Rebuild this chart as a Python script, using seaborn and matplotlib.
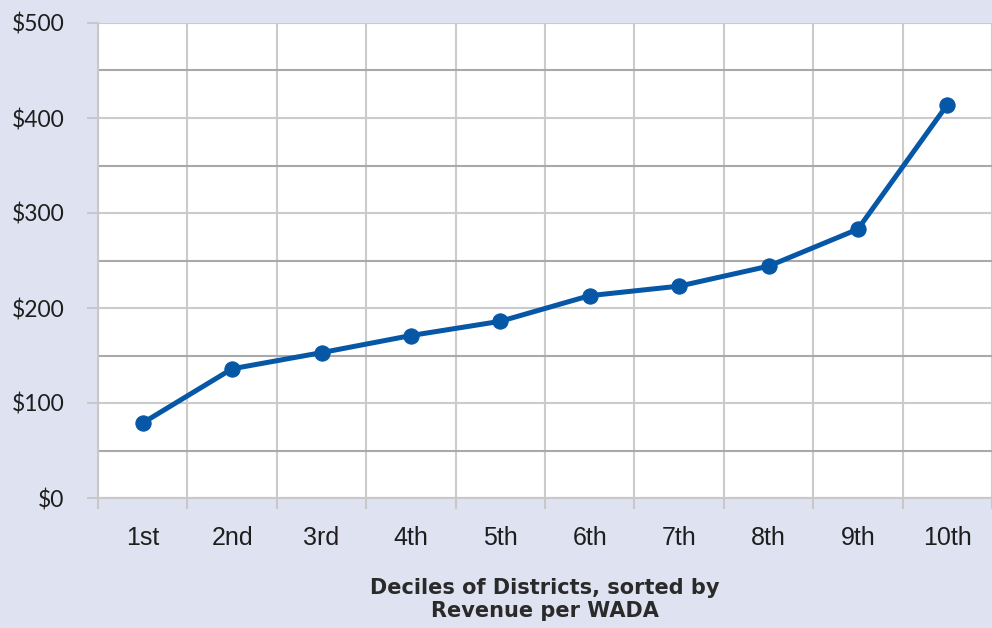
import numpy as np
import pandas as pd
import matplotlib.pyplot as plt
import seaborn as sns
from matplotlib.ticker import FixedLocator

# values (revenue per WADA by decile)
deciles = ['1st', '2nd', '3rd', '4th', '5th', '6th', '7th', '8th', '9th', '10th']
revenue = [79, 136, 153, 171, 186, 213, 223, 244, 283, 414]
y_ticks = [0, 100, 200, 300, 400, 500]
y_labels = ['$0', '$100', '$200', '$300', '$400', '$500']

df = pd.DataFrame({'decile': deciles, 'revenue': revenue})

bg = '#dfe3f1'
blue = '#0657a6'

sns.set_style('white')
fig = plt.figure(figsize=(9.92, 6.28), dpi=100, facecolor=bg)
ax = fig.add_axes([98/992, 1 - 498/628, 1 - 98/992, (498 - 23)/628])
ax.set_facecolor('white')

sns.lineplot(data=df, x='decile', y='revenue', ax=ax, color=blue, linewidth=3.6,
             marker='o', markersize=11, markeredgecolor=blue, sort=False, zorder=5)

ax.set_xlim(-0.5, len(deciles) - 0.5)
ax.set_ylim(0, 500)

# y axis: labelled every 100, darker gridlines on the 50s
ax.yaxis.set_major_locator(FixedLocator(y_ticks))
ax.set_yticklabels(y_labels, fontsize=16.5, family='Lato', color='#1e1e1e')
ax.yaxis.set_minor_locator(FixedLocator([50, 150, 250, 350, 450]))
ax.tick_params(axis='y', which='major', left=True, length=8, width=1.5,
               color='#c8c8c8', pad=16)
ax.tick_params(axis='y', which='minor', left=False, length=0)
ax.grid(axis='y', which='major', color='#cbcbcb', linewidth=1.5)
ax.grid(axis='y', which='minor', color='#a9a9a9', linewidth=1.5)

# x axis: labels in the middle, ticks/grid on category boundaries
ax.set_xticks(range(len(deciles)))
ax.set_xticklabels(deciles, fontsize=18, family='Liberation Sans', color='#1e1e1e')
ax.xaxis.set_minor_locator(FixedLocator(np.arange(-0.5, len(deciles), 1.0)))
ax.tick_params(axis='x', which='major', bottom=False, length=0, pad=20)
ax.tick_params(axis='x', which='minor', bottom=True, length=8, width=1.5,
               color='#c8c8c8')
ax.grid(axis='x', which='minor', color='#cbcbcb', linewidth=1.5)
ax.grid(axis='x', which='major', visible=False)
ax.set_axisbelow(True)

for side in ['top', 'right']:
    ax.spines[side].set_visible(False)
for side in ['left', 'bottom']:
    ax.spines[side].set_color('#c8c8c8')
    ax.spines[side].set_linewidth(1.5)

ax.set_ylabel('')
ax.set_xlabel('Deciles of Districts, sorted by\nRevenue per WADA', fontsize=15,
              fontweight='bold', family='DejaVu Sans', color='#2a2a2a',
              labelpad=20, linespacing=1.2)

plt.savefig('out.png', dpi=100, facecolor=bg)
